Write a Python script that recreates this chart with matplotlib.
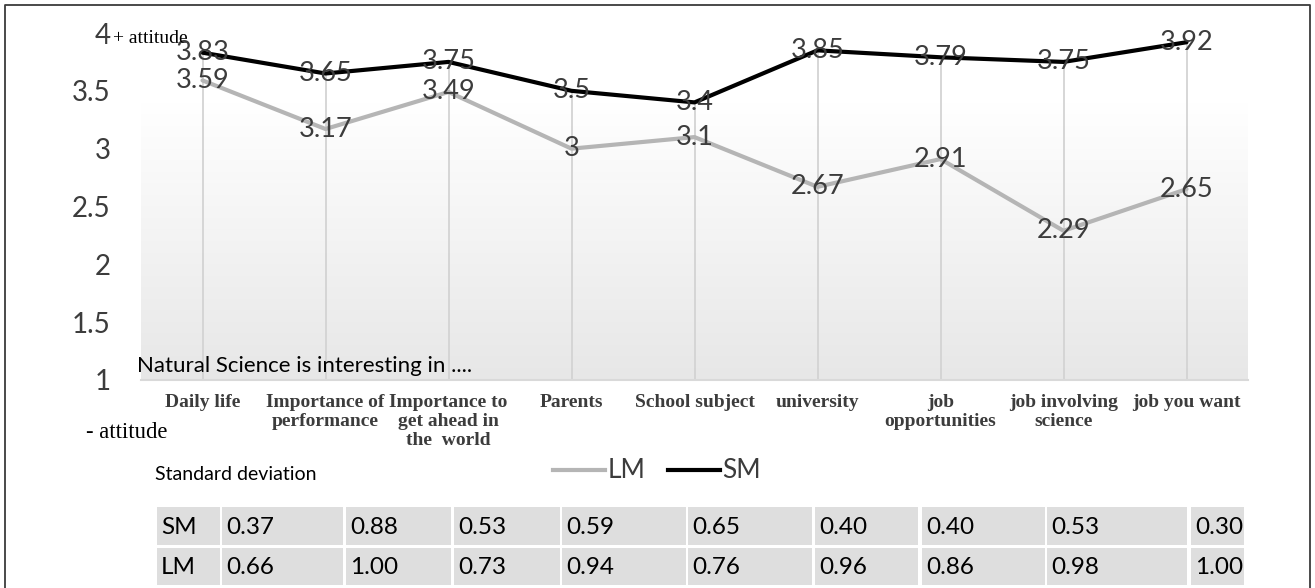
import numpy as np
import matplotlib
matplotlib.use("Agg")
import matplotlib.pyplot as plt
from matplotlib.colors import LinearSegmentedColormap
from matplotlib.patches import Rectangle
from matplotlib.lines import Line2D

# ---- data -------------------------------------------------------------
categories = [
    "Daily life",
    "Importance of\nperformance",
    "Importance to\nget ahead in\nthe  world",
    "Parents",
    "School subject",
    "university",
    "job\nopportunities",
    "job involving\nscience",
    "job you want",
]
lm_mean = [3.59, 3.17, 3.49, 3.00, 3.10, 2.67, 2.91, 2.29, 2.65]
sm_mean = [3.83, 3.65, 3.75, 3.50, 3.40, 3.85, 3.79, 3.75, 3.92]
sm_sd = ["0.37", "0.88", "0.53", "0.59", "0.65", "0.40", "0.40", "0.53", "0.30"]
lm_sd = ["0.66", "1.00", "0.73", "0.94", "0.76", "0.96", "0.86", "0.98", "1.00"]
y_ticks = [1, 1.5, 2, 2.5, 3, 3.5, 4]

# ---- layout -----------------------------------------------------------
W, H = 1315, 588
SANS = ["Lato", "DejaVu Sans"]
SERIF = ["Liberation Serif", "DejaVu Serif"]
TXT = "#3c3c3c"

fig = plt.figure(figsize=(W / 100, H / 100), dpi=100)
fig.patch.set_facecolor("white")

left, right, top, bottom = 141, 1248, 33, 380
ax = fig.add_axes([left / W, 1 - bottom / H, (right - left) / W, (bottom - top) / H],
                  zorder=1)
ax.set_facecolor("none")

x = np.arange(len(categories))

# soft grey gradient in the lower part of the plot area
grad = np.linspace(0, 1, 256).reshape(-1, 1)
cmap = LinearSegmentedColormap.from_list("fade", ["#ffffff", "#e7e7e7"])
ax.imshow(grad, cmap=cmap, extent=[-0.5, 8.5, 1, 3.4], aspect="auto",
          zorder=0, interpolation="bilinear")

# drop lines from the upper series to the axis
ax.vlines(x, 1, sm_mean, color="#d3d3d3", lw=1.3, zorder=1)

ax.plot(x, lm_mean, color="#b5b5b5", lw=3.0, solid_joinstyle="round",
        solid_capstyle="round", zorder=2)
ax.plot(x, sm_mean, color="#000000", lw=3.0, solid_joinstyle="round",
        solid_capstyle="round", zorder=3)

for xi, v in zip(x, lm_mean):
    ax.text(xi, v, f"{v:g}", ha="center", va="center", fontsize=19.5,
            family=SANS, color=TXT, zorder=4, clip_on=False)
for xi, v in zip(x, sm_mean):
    ax.text(xi, v, f"{v:g}", ha="center", va="center", fontsize=19.5,
            family=SANS, color=TXT, zorder=4, clip_on=False)

ax.set_xlim(-0.5, 8.5)
ax.set_ylim(1, 4)
ax.set_yticks(y_ticks)
ax.set_yticklabels([f"{t:g}" for t in y_ticks], family=SANS, fontsize=20, color=TXT)
ax.set_xticks(x)
ax.set_xticklabels(categories, family=SERIF, fontweight="bold", fontsize=14,
                   color=TXT, linespacing=1.15, va="top")
ax.tick_params(axis="y", length=0, pad=22)
ax.tick_params(axis="x", length=0, pad=10)
for side in ("left", "right", "top"):
    ax.spines[side].set_visible(False)
ax.spines["bottom"].set_color("#d9d9d9")
ax.spines["bottom"].set_linewidth(1.5)

# ---- annotation layer in pixel coordinates ----------------------------
board = fig.add_axes([0, 0, 1, 1], zorder=2)
board.set_xlim(0, W)
board.set_ylim(H, 0)
board.axis("off")
board.set_facecolor("none")

# frame around the figure
board.plot([5, 5, 1310, 1310], [H + 5, 5, 5, H + 5], color="#3c3c3c", lw=1.3,
           clip_on=False)

board.text(113, 43, "+ attitude", family=SERIF, fontsize=14, color="#000000",
           ha="left", va="baseline")
board.text(86, 438, "- attitude", family=SERIF, fontsize=16.3, color="#000000",
           ha="left", va="baseline")
board.text(137, 372, "Natural Science is interesting in ....", family=SANS,
           fontsize=16, color="#000000", ha="left", va="baseline")
board.text(155, 474, "Standard deviation", family=SANS, fontsize=14,
           color="#000000", ha="left", va="center")

# legend
board.add_line(Line2D([553, 605], [470, 470], color="#b5b5b5", lw=3.0))
board.text(608, 470, "LM", family=SANS, fontsize=19, color=TXT,
           ha="left", va="center")
board.add_line(Line2D([668, 720], [470, 470], color="#000000", lw=3.0))
board.text(722, 470, "SM", family=SANS, fontsize=19, color=TXT,
           ha="left", va="center")

# standard deviation table
col_edges = [(157, 220), (222, 343), (346, 451), (454, 560), (562, 686),
             (688, 812), (815, 918), (922, 1045), (1047, 1187), (1191, 1244)]
rows = [("SM", sm_sd, 507, 545), ("LM", lm_sd, 548, 585)]
for name, vals, y0, y1 in rows:
    cells = [name] + vals
    for (c0, c1), s in zip(col_edges, cells):
        board.add_patch(Rectangle((c0, y0), c1 - c0, y1 - y0,
                                  facecolor="#dedede", edgecolor="none"))
        board.text(c0 + 4, (y0 + y1) / 2 + 1, s, family=SANS, fontsize=17.5,
                   color="#000000", ha="left", va="center")

fig.savefig("out.png", dpi=100)
